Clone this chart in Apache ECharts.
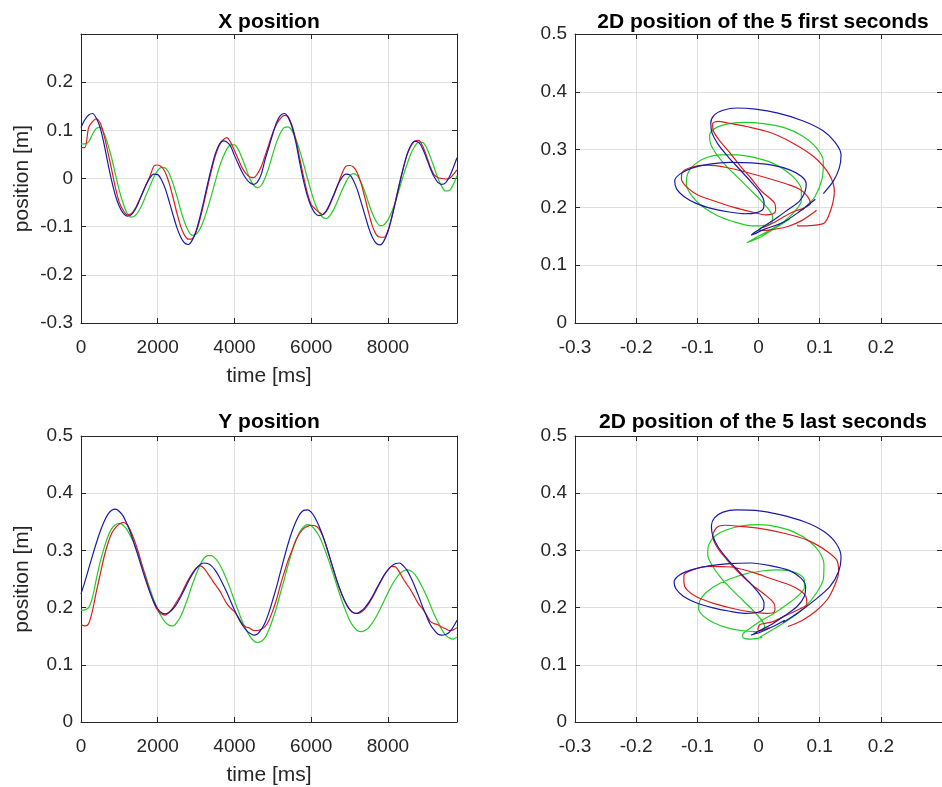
<!DOCTYPE html>
<html>
<head>
<meta charset="utf-8">
<title>position</title>
<script src="https://cdn.jsdelivr.net/npm/echarts@6/dist/echarts.min.js"></script>
<style>
html, body { margin: 0; padding: 0; background: #fff; }
#main { width: 942px; height: 787px; }
</style>
</head>
<body>
<div id="main"></div>
<script>
// sample times [ms], one sample every 100 ms
let time_ms = [
    0, 100, 200, 300, 400, 500, 600, 700, 800, 900,
    1000, 1100, 1200, 1300, 1400, 1500, 1600, 1700, 1800, 1900,
    2000, 2100, 2200, 2300, 2400, 2500, 2600, 2700, 2800, 2900,
    3000, 3100, 3200, 3300, 3400, 3500, 3600, 3700, 3800, 3900,
    4000, 4100, 4200, 4300, 4400, 4500, 4600, 4700, 4800, 4900,
    5000, 5100, 5200, 5300, 5400, 5500, 5600, 5700, 5800, 5900,
    6000, 6100, 6200, 6300, 6400, 6500, 6600, 6700, 6800, 6900,
    7000, 7100, 7200, 7300, 7400, 7500, 7600, 7700, 7800, 7900,
    8000, 8100, 8200, 8300, 8400, 8500, 8600, 8700, 8800, 8900,
    9000, 9100, 9200, 9300, 9400, 9500, 9600, 9700, 9800
];

// X position [m]
let x_red = [
    0.064, 0.064, 0.106, 0.118, 0.124, 0.115, 0.090, 0.055, 0.018, -0.020,
    -0.050, -0.066, -0.075, -0.074, -0.064, -0.048, -0.030, -0.012, 0.005, 0.026,
    0.028, 0.024, 0.012, -0.010, -0.040, -0.072, -0.100, -0.118, -0.126, -0.125,
    -0.111, -0.085, -0.052, -0.017, 0.017, 0.047, 0.068, 0.080, 0.085, 0.075,
    0.058, 0.040, 0.022, 0.010, 0.003, 0.002, 0.010, 0.025, 0.048, 0.072,
    0.095, 0.113, 0.125, 0.131, 0.128, 0.110, 0.080, 0.042, 0.004, -0.030,
    -0.054, -0.063, -0.070, -0.075, -0.068, -0.052, -0.033, -0.012, 0.010, 0.025,
    0.027, 0.024, 0.012, -0.010, -0.040, -0.072, -0.100, -0.117, -0.122, -0.122,
    -0.108, -0.080, -0.045, -0.010, 0.022, 0.050, 0.068, 0.078, 0.079, 0.068,
    0.048, 0.025, 0.008, 0.002, 0.000, -0.001, 0.000, 0.008, 0.018
];
let x_green = [
    0.072, 0.072, 0.076, 0.092, 0.104, 0.106, 0.094, 0.071, 0.042, 0.008,
    -0.025, -0.052, -0.072, -0.080, -0.078, -0.068, -0.053, -0.034, -0.015, 0.003,
    0.017, 0.023, 0.022, 0.010, -0.011, -0.037, -0.066, -0.091, -0.109, -0.118,
    -0.116, -0.105, -0.086, -0.062, -0.035, -0.006, 0.022, 0.044, 0.061, 0.070,
    0.070, 0.060, 0.042, 0.021, 0.000, -0.014, -0.019, -0.014, 0.002, 0.024,
    0.051, 0.076, 0.095, 0.106, 0.107, 0.099, 0.082, 0.058, 0.031, 0.001,
    -0.027, -0.052, -0.070, -0.081, -0.083, -0.076, -0.062, -0.044, -0.025, -0.008,
    0.005, 0.010, 0.006, -0.008, -0.028, -0.052, -0.074, -0.090, -0.098, -0.096,
    -0.086, -0.069, -0.047, -0.021, 0.006, 0.030, 0.052, 0.067, 0.075, 0.075,
    0.065, 0.046, 0.024, 0.001, -0.016, -0.026, -0.025, -0.013, 0.006
];
let x_blue = [
    0.106, 0.122, 0.132, 0.135, 0.125, 0.105, 0.072, 0.032, -0.005, -0.036,
    -0.058, -0.072, -0.078, -0.076, -0.066, -0.050, -0.031, -0.013, 0.002, 0.009,
    0.008, -0.003, -0.022, -0.048, -0.076, -0.102, -0.122, -0.134, -0.137, -0.128,
    -0.109, -0.080, -0.047, -0.011, 0.022, 0.051, 0.070, 0.078, 0.076, 0.067,
    0.048, 0.030, 0.013, 0.000, -0.009, -0.012, -0.007, 0.009, 0.040, 0.066,
    0.093, 0.117, 0.131, 0.135, 0.127, 0.107, 0.075, 0.033, -0.005, -0.036,
    -0.058, -0.072, -0.077, -0.075, -0.066, -0.050, -0.031, -0.012, 0.002, 0.009,
    0.008, -0.004, -0.023, -0.049, -0.076, -0.103, -0.123, -0.135, -0.138, -0.129,
    -0.110, -0.081, -0.048, -0.012, 0.021, 0.050, 0.069, 0.077, 0.075, 0.063,
    0.043, 0.022, 0.004, -0.008, -0.012, -0.009, 0.003, 0.022, 0.043
];

// Y position [m]
let y_red = [
    0.170, 0.168, 0.172, 0.195, 0.228, 0.258, 0.288, 0.312, 0.330, 0.340,
    0.346, 0.349, 0.345, 0.333, 0.316, 0.296, 0.272, 0.250, 0.228, 0.208,
    0.195, 0.189, 0.187, 0.192, 0.200, 0.211, 0.222, 0.236, 0.249, 0.260,
    0.269, 0.273, 0.269, 0.260, 0.250, 0.240, 0.231, 0.219, 0.207, 0.199,
    0.193, 0.183, 0.172, 0.166, 0.164, 0.160, 0.160, 0.162, 0.167, 0.178,
    0.195, 0.215, 0.240, 0.262, 0.283, 0.300, 0.318, 0.330, 0.338, 0.342,
    0.344, 0.343, 0.338, 0.325, 0.306, 0.284, 0.262, 0.241, 0.223, 0.208,
    0.197, 0.191, 0.190, 0.192, 0.198, 0.207, 0.218, 0.231, 0.244, 0.256,
    0.266, 0.272, 0.271, 0.262, 0.250, 0.240, 0.230, 0.218, 0.206, 0.198,
    0.188, 0.176, 0.172, 0.170, 0.166, 0.163, 0.160, 0.161, 0.165
];
let y_green = [
    0.195, 0.196, 0.200, 0.218, 0.250, 0.280, 0.304, 0.324, 0.338, 0.345,
    0.347, 0.344, 0.336, 0.324, 0.309, 0.291, 0.272, 0.252, 0.232, 0.213,
    0.196, 0.184, 0.174, 0.169, 0.168, 0.174, 0.185, 0.201, 0.220, 0.240,
    0.258, 0.274, 0.286, 0.291, 0.291, 0.286, 0.277, 0.264, 0.248, 0.231,
    0.212, 0.194, 0.176, 0.162, 0.150, 0.142, 0.139, 0.141, 0.148, 0.162,
    0.180, 0.201, 0.226, 0.250, 0.275, 0.298, 0.317, 0.332, 0.341, 0.345,
    0.343, 0.336, 0.326, 0.311, 0.293, 0.274, 0.253, 0.232, 0.212, 0.194,
    0.178, 0.167, 0.160, 0.158, 0.160, 0.165, 0.174, 0.185, 0.198, 0.212,
    0.226, 0.239, 0.250, 0.259, 0.264, 0.266, 0.264, 0.258, 0.248, 0.235,
    0.221, 0.205, 0.189, 0.175, 0.162, 0.152, 0.147, 0.145, 0.148
];
let y_blue = [
    0.224, 0.245, 0.268, 0.291, 0.313, 0.333, 0.350, 0.363, 0.370, 0.372,
    0.368, 0.360, 0.346, 0.329, 0.309, 0.288, 0.266, 0.245, 0.226, 0.210,
    0.198, 0.191, 0.189, 0.192, 0.198, 0.207, 0.219, 0.232, 0.246, 0.258,
    0.268, 0.275, 0.278, 0.277, 0.273, 0.265, 0.254, 0.241, 0.227, 0.211,
    0.196, 0.182, 0.170, 0.161, 0.155, 0.152, 0.154, 0.162, 0.174, 0.192,
    0.214, 0.237, 0.263, 0.288, 0.312, 0.333, 0.350, 0.363, 0.370, 0.371,
    0.367, 0.357, 0.343, 0.326, 0.306, 0.284, 0.262, 0.241, 0.223, 0.208,
    0.197, 0.191, 0.190, 0.194, 0.200, 0.209, 0.220, 0.233, 0.245, 0.257,
    0.266, 0.273, 0.277, 0.278, 0.273, 0.265, 0.252, 0.237, 0.220, 0.202,
    0.186, 0.171, 0.161, 0.154, 0.152, 0.153, 0.157, 0.166, 0.178
];

// axis ranges [min, max, step]
let time_range = [0, 9800, 2000];
let xpos_range = [-0.3, 0.3, 0.1];
let ypos_range = [0, 0.5, 0.1];

// first 5 s = samples 0..50, last 5 s = samples 48..98
let first_window = [0, 50];
let last_window = [48, 98];

let font = "'Liberation Sans', Arial, sans-serif";
let axisColor = '#262626';
let gridColor = '#dfdfdf';
let red = '#dd1c1c', green = '#22cc22', blue = '#1a1aa8';

function timeSeries(values) {
    let out = [];
    for (let i = 0; i < time_ms.length; i++) {
        out.push([time_ms[i], values[i]]);
    }
    return out;
}

function trajectory(xs, ys, win) {
    let out = [];
    for (let i = win[0]; i <= win[1]; i++) {
        out.push([xs[i], ys[i]]);
    }
    return out;
}

let xAxes = [];
let yAxes = [];

// main axes (bottom/left) plus plain top/right axes to close the box
function addAxes(gi, xr, yr, xName, yName, showYMax) {
    let tick = { show: true, inside: true, length: 5, lineStyle: { color: axisColor } };
    let line = { show: true, onZero: false, lineStyle: { color: axisColor, width: 1 } };
    let nameStyle = { fontSize: 21, color: axisColor, fontFamily: font };
    xAxes.push({
        type: 'value', gridIndex: gi, position: 'bottom',
        min: xr[0], max: xr[1], interval: xr[2],
        name: xName, nameLocation: 'middle', nameGap: 43, nameTextStyle: nameStyle,
        axisLine: line, axisTick: tick,
        axisLabel: {
            fontSize: 19, color: axisColor, fontFamily: font, margin: 15,
            showMaxLabel: false,
            formatter: function (v) { return String(v); }
        },
        splitLine: { show: true, lineStyle: { color: gridColor, width: 1 } }
    });
    xAxes.push({
        type: 'value', gridIndex: gi, position: 'top',
        min: xr[0], max: xr[1], interval: xr[2],
        axisLine: line, axisTick: tick,
        axisLabel: { show: false }, splitLine: { show: false }
    });
    yAxes.push({
        type: 'value', gridIndex: gi, position: 'left',
        min: yr[0], max: yr[1], interval: yr[2],
        name: yName, nameLocation: 'middle', nameGap: 48, nameTextStyle: nameStyle,
        axisLine: line, axisTick: tick,
        axisLabel: {
            fontSize: 19, color: axisColor, fontFamily: font, margin: 8,
            showMaxLabel: showYMax
        },
        splitLine: { show: true, lineStyle: { color: gridColor, width: 1 } }
    });
    yAxes.push({
        type: 'value', gridIndex: gi, position: 'right',
        min: yr[0], max: yr[1], interval: yr[2],
        axisLine: line, axisTick: tick,
        axisLabel: { show: false }, splitLine: { show: false }
    });
}

addAxes(0, time_range, xpos_range, 'time [ms]', 'position [m]', false);
addAxes(1, xpos_range, ypos_range, '', '', true);
addAxes(2, time_range, ypos_range, 'time [ms]', 'position [m]', true);
addAxes(3, xpos_range, ypos_range, '', '', true);

function line(gi, data, color) {
    return {
        type: 'line', xAxisIndex: gi * 2, yAxisIndex: gi * 2,
        data: data, symbol: 'none', showSymbol: false, smooth: 0.3,
        lineStyle: { width: 1.2, color: color }, itemStyle: { color: color },
        silent: true
    };
}

function title(text, cx, top) {
    return {
        text: text, left: cx, top: top, textAlign: 'center',
        textStyle: { fontSize: 21, fontWeight: 'bold', color: '#000', fontFamily: font }
    };
}

let myChart = echarts.init(document.getElementById('main'));

let option = {
    animation: false,
    backgroundColor: '#fff',
    title: [
        title('X position', 264, 7),
        title('2D position of the 5 first seconds', 758, 7),
        title('Y position', 264, 407),
        title('2D position of the 5 last seconds', 758, 407)
    ],
    grid: [
        { left: 81, top: 34, width: 376, height: 289 },
        { left: 575, top: 34, width: 376, height: 289 },
        { left: 81, top: 436, width: 376, height: 286 },
        { left: 575, top: 436, width: 376, height: 286 }
    ],
    xAxis: xAxes,
    yAxis: yAxes,
    series: [
        line(0, timeSeries(x_green), green),
        line(0, timeSeries(x_red), red),
        line(0, timeSeries(x_blue), blue),
        line(1, trajectory(x_green, y_green, first_window), green),
        line(1, trajectory(x_red, y_red, first_window), red),
        line(1, trajectory(x_blue, y_blue, first_window), blue),
        line(2, timeSeries(y_green), green),
        line(2, timeSeries(y_red), red),
        line(2, timeSeries(y_blue), blue),
        line(3, trajectory(x_green, y_green, last_window), green),
        line(3, trajectory(x_red, y_red, last_window), red),
        line(3, trajectory(x_blue, y_blue, last_window), blue)
    ]
};

myChart.setOption(option);
</script>
</body>
</html>
